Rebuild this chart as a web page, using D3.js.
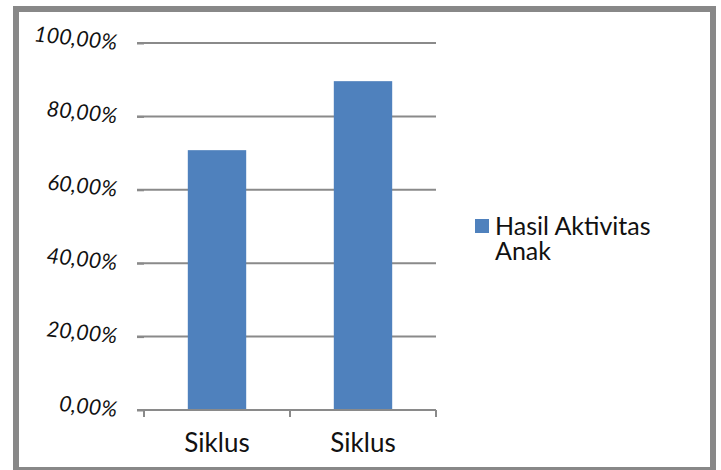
<!DOCTYPE html>
<html>
<head>
<meta charset="utf-8">
<script src="https://cdn.jsdelivr.net/npm/d3@7"></script>
<style>
  body { margin: 0; background: #fff; }
  svg text { font-family: Lato, "Open Sans", sans-serif; fill: #111; }
</style>
</head>
<body>
<div id="chart"></div>
<script>
// data
let categories = ["Siklus", "Siklus"];
let values = [70.8, 89.6];
let seriesName = ["Hasil Aktivitas", "Anak"];
let yTicks = [0, 20, 40, 60, 80, 100];

let width = 721, height = 470;
let plot = { left: 144, right: 436, top: 43, bottom: 410 };

let svg = d3.select("#chart")
  .append("svg")
  .attr("width", width)
  .attr("height", height);

svg.append("rect")
  .attr("width", width)
  .attr("height", height)
  .attr("fill", "#fff");

// frame
svg.append("rect")
  .attr("x", 16)
  .attr("y", 9)
  .attr("width", 697)
  .attr("height", 461)
  .attr("fill", "none")
  .attr("stroke", "#888")
  .attr("stroke-width", 6);

let x = d3.scaleBand()
  .domain(categories.map((d, i) => i))
  .range([plot.left, plot.right]);

let y = d3.scaleLinear()
  .domain([0, 100])
  .range([plot.bottom, plot.top]);

// gridlines
svg.append("g")
  .selectAll("line")
  .data(yTicks.slice(1))
  .enter()
  .append("line")
  .attr("x1", plot.left - 7)
  .attr("x2", plot.right)
  .attr("y1", d => y(d))
  .attr("y2", d => y(d))
  .attr("stroke", "#8a8a8a")
  .attr("stroke-width", 2);

// bars
let barW = x.bandwidth() * 0.4;
svg.append("g")
  .selectAll("rect")
  .data(values)
  .enter()
  .append("rect")
  .attr("x", (d, i) => x(i) + (x.bandwidth() - barW) / 2)
  .attr("y", d => y(d))
  .attr("width", barW)
  .attr("height", d => y(0) - y(d))
  .attr("fill", "#4f81bd");

// y axis
let yAxis = svg.append("g")
  .attr("transform", "translate(" + plot.left + ",0)")
  .call(d3.axisLeft(y)
    .tickValues(yTicks)
    .tickSize(7)
    .tickPadding(20)
    .tickFormat(d => d.toFixed(2).replace(".", ",") + "%"));
yAxis.select(".domain").remove();
yAxis.selectAll(".tick line").attr("stroke", "#8a8a8a").attr("stroke-width", 2);
yAxis.selectAll(".tick text")
  .attr("x", 0)
  .attr("dy", "0.3em")
  .attr("transform", "translate(-27,0) rotate(6)")
  .style("font-size", "21.5px")
  .style("font-style", "italic");

// x axis
let xAxis = svg.append("g")
  .attr("transform", "translate(0," + plot.bottom + ")")
  .call(d3.axisBottom(x)
    .tickSize(7)
    .tickFormat(i => categories[i]));
xAxis.select(".domain")
  .attr("d", "M" + (plot.left - 7) + ",0H" + plot.right)
  .attr("stroke", "#8a8a8a")
  .attr("stroke-width", 2);
xAxis.selectAll(".tick line").remove();
xAxis.selectAll(".tick text")
  .attr("y", 42)
  .attr("dy", 0)
  .style("font-size", "26px");

// category boundary ticks
svg.append("g")
  .selectAll("line")
  .data(categories.map((d, i) => i).concat([categories.length]))
  .enter()
  .append("line")
  .attr("x1", i => i < categories.length ? x(i) : plot.right)
  .attr("x2", i => i < categories.length ? x(i) : plot.right)
  .attr("y1", plot.bottom)
  .attr("y2", plot.bottom + 7)
  .attr("stroke", "#8a8a8a")
  .attr("stroke-width", 2);

// legend
let legend = svg.append("g").attr("transform", "translate(475,219)");
legend.append("rect")
  .attr("width", 14)
  .attr("height", 14)
  .attr("fill", "#4f81bd");
legend.append("text")
  .style("font-size", "25px")
  .selectAll("tspan")
  .data(seriesName)
  .enter()
  .append("tspan")
  .attr("x", 20)
  .attr("y", (d, i) => 16 + i * 25)
  .text(d => d);
</script>
</body>
</html>
